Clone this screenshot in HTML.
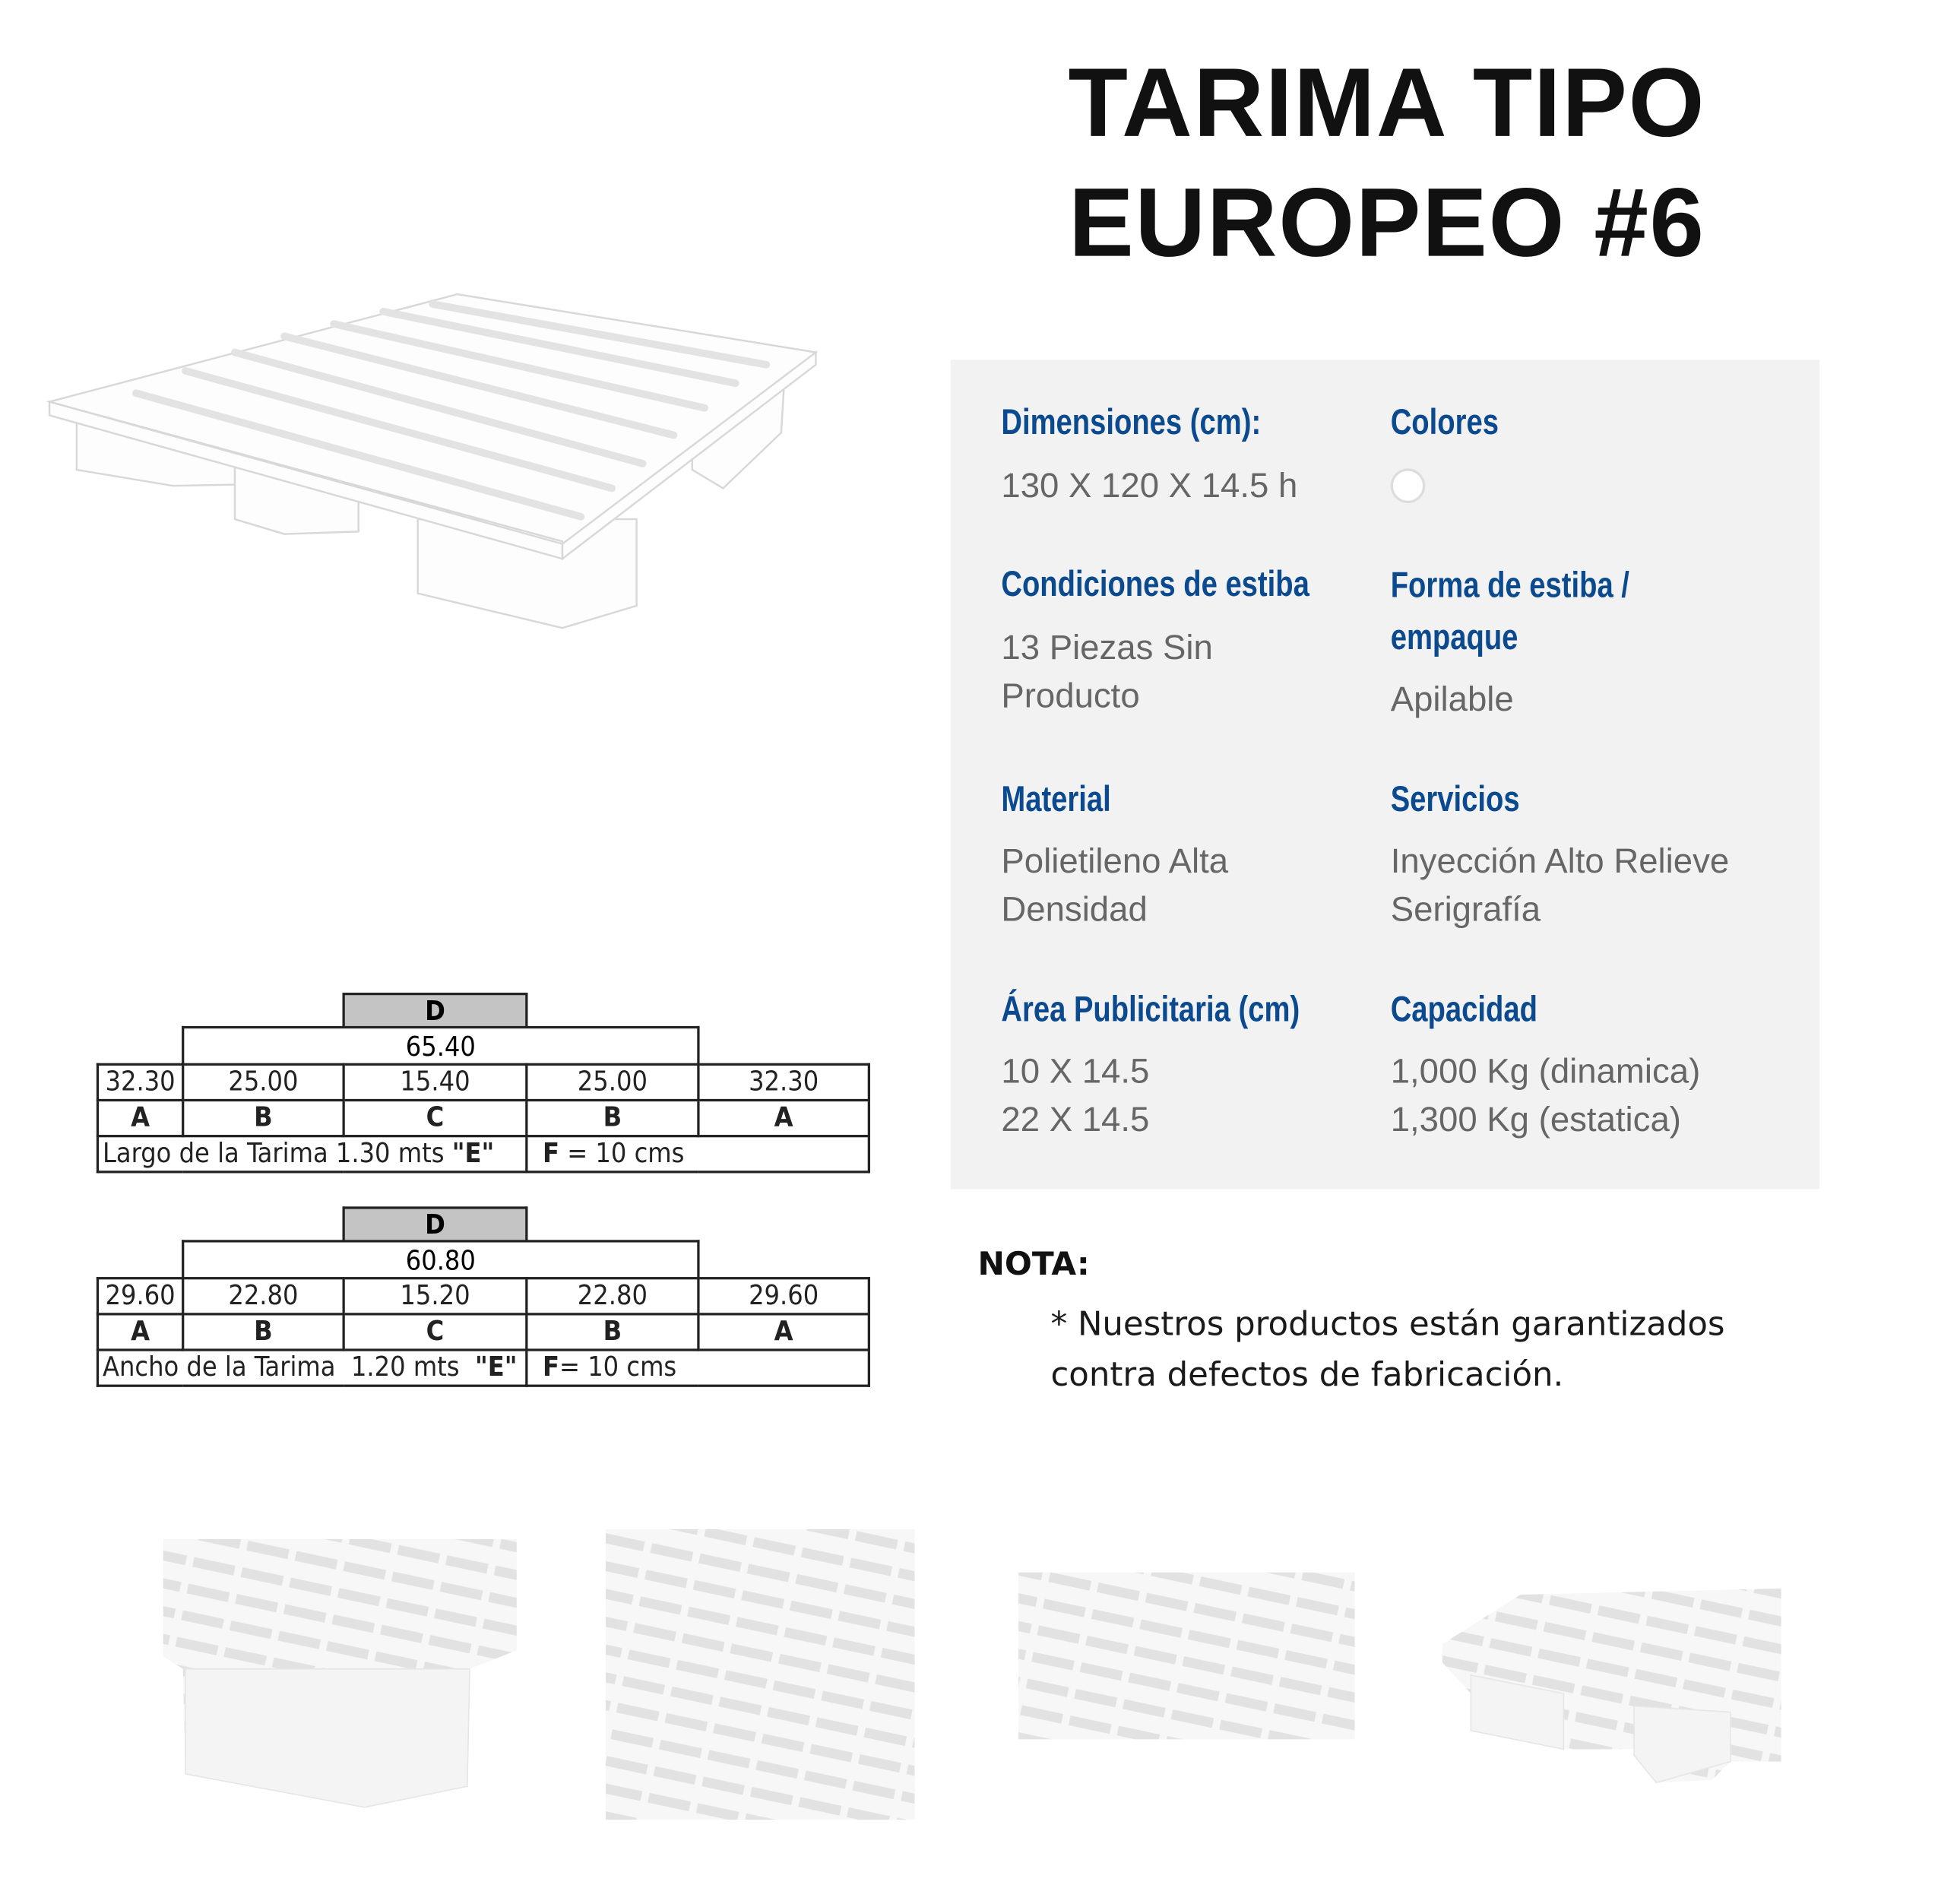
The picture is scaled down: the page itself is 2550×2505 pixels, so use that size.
<!DOCTYPE html>
<html><head><meta charset="utf-8"><style>
html,body{margin:0;padding:0;background:#fff;}
body{width:2550px;height:2504px;overflow:hidden;position:relative;}
#w{position:absolute;left:0;top:0;width:1568px;height:1540px;transform:scale(1.6264);transform-origin:0 0;}
.a{position:absolute;white-space:nowrap;}
.t{font-family:"Liberation Sans",sans-serif;font-weight:bold;font-size:79px;color:#111;left:850px;width:544px;text-align:center;letter-spacing:1px;}
.h{font-family:"Liberation Sans",sans-serif;font-weight:bold;font-size:29px;color:#0b4a8e;transform:scaleX(0.81);transform-origin:0 0;margin-top:4px;}
.b{font-family:"Liberation Sans",sans-serif;font-size:28px;color:#666;line-height:39px;}
.n{font-family:"DejaVu Sans","Liberation Sans",sans-serif;font-size:26.7px;color:#1a1a1a;line-height:41px;}
table{position:absolute;border-collapse:collapse;font-family:"DejaVu Sans Condensed","Liberation Sans Narrow",sans-serif;font-size:22px;color:#222;table-layout:fixed;}
td{border:2px solid #222;padding:0;height:27px;text-align:center;line-height:27px;white-space:nowrap;overflow:hidden;}
</style></head><body><div id="w">
<div class="a t" style="top:33px;line-height:100px;">TARIMA TIPO</div>
<div class="a t" style="top:130px;line-height:100px;">EUROPEO #6</div>

<svg class="a" style="left:0;top:0" width="700" height="540">
<g fill="#fdfdfd" stroke="#d8d8d8" stroke-width="1.5">
<polygon points="62,340 190,338 190,392 140,393 62,380"/>
<polygon points="190,372 290,370 290,430 230,432 190,420"/>
<polygon points="338,420 515,420 515,490 455,508 338,480"/>
<polygon points="560,320 635,300 632,350 585,395 560,380"/>
<polygon points="40,325 370,238 660,285 455,450 455,438"/>
<polygon points="40,325 455,440 455,452 40,336"/>
<polygon points="455,440 660,285 660,295 455,452"/>
</g>
<g stroke="#e3e3e3" stroke-width="6" stroke-linecap="round">
<line x1="110" y1="318" x2="470" y2="418"/>
<line x1="150" y1="300" x2="495" y2="395"/>
<line x1="190" y1="285" x2="520" y2="375"/>
<line x1="230" y1="272" x2="545" y2="352"/>
<line x1="270" y1="262" x2="570" y2="330"/>
<line x1="310" y1="252" x2="595" y2="310"/>
<line x1="350" y1="246" x2="620" y2="295"/>
</g>
</svg>

<div class="a" style="left:769px;top:291px;width:703px;height:671px;background:#f2f2f2;"></div>
<div class="a h" style="left:810px;top:322px;">Dimensiones (cm):</div>
<div class="a h" style="left:1125px;top:322px;">Colores</div>
<div class="a b" style="left:810px;top:373px;">130 X 120 X 14.5 h</div>
<div class="a" style="left:1125px;top:379px;width:24px;height:24px;border:2px solid #ddd;border-radius:50%;background:#fff;"></div>
<div class="a h" style="left:810px;top:453px;">Condiciones de estiba</div>
<div class="a h" style="left:1125px;line-height:42px;top:449px;">Forma de estiba /<br>empaque</div>
<div class="a b" style="left:810px;top:504px;">13 Piezas Sin<br>Producto</div>
<div class="a b" style="left:1125px;top:546px;">Apilable</div>
<div class="a h" style="left:810px;top:627px;">Material</div>
<div class="a h" style="left:1125px;top:627px;">Servicios</div>
<div class="a b" style="left:810px;top:677px;">Polietileno Alta<br>Densidad</div>
<div class="a b" style="left:1125px;top:677px;">Inyección Alto Relieve<br>Serigrafía</div>
<div class="a h" style="left:810px;top:797px;">Área Publicitaria (cm)</div>
<div class="a h" style="left:1125px;top:797px;">Capacidad</div>
<div class="a b" style="left:810px;top:847px;">10 X 14.5<br>22 X 14.5</div>
<div class="a b" style="left:1125px;top:847px;">1,000 Kg (dinamica)<br>1,300 Kg (estatica)</div>

<div class="a" style="left:791px;top:1008px;font-family:'DejaVu Sans','Liberation Sans',sans-serif;font-weight:bold;font-size:26px;color:#111;">NOTA:</div>
<div class="a n" style="left:850px;top:1051px;">* Nuestros productos están garantizados<br>contra defectos de fabricación.</div>

<div class="a" style="left:277px;top:803px;width:146px;height:26px;background:#c4c4c4;border:2px solid #222;border-bottom:none;text-align:center;font:bold 22px 'DejaVu Sans Condensed',sans-serif;line-height:28px;">D</div>
<div class="a" style="left:147px;top:830px;width:415px;height:29px;border:2px solid #222;border-bottom:none;text-align:center;font:22px 'DejaVu Sans Condensed',sans-serif;line-height:32px;">65.40</div>
<table style="left:78px;top:860px;width:626px;">
<col style="width:69px"><col style="width:130px"><col style="width:148px"><col style="width:139px"><col>
<tr><td>32.30</td><td>25.00</td><td>15.40</td><td>25.00</td><td>32.30</td></tr>
<tr style="font-weight:bold"><td>A</td><td>B</td><td>C</td><td>B</td><td>A</td></tr>
<tr><td colspan="3" style="text-align:left;padding-left:3px">Largo de la Tarima 1.30 mts <b>"E"</b></td><td colspan="2" style="text-align:left;padding-left:12px"><b>F</b> = 10 cms</td></tr>
</table>
<div class="a" style="left:277px;top:976px;width:146px;height:26px;background:#c4c4c4;border:2px solid #222;border-bottom:none;text-align:center;font:bold 22px 'DejaVu Sans Condensed',sans-serif;line-height:28px;">D</div>
<div class="a" style="left:147px;top:1003px;width:415px;height:29px;border:2px solid #222;border-bottom:none;text-align:center;font:22px 'DejaVu Sans Condensed',sans-serif;line-height:32px;">60.80</div>
<table style="left:78px;top:1033px;width:626px;">
<col style="width:69px"><col style="width:130px"><col style="width:148px"><col style="width:139px"><col>
<tr><td>29.60</td><td>22.80</td><td>15.20</td><td>22.80</td><td>29.60</td></tr>
<tr style="font-weight:bold"><td>A</td><td>B</td><td>C</td><td>B</td><td>A</td></tr>
<tr><td colspan="3" style="text-align:left;padding-left:3px">Ancho de la Tarima &nbsp;1.20 mts &nbsp;<b>"E"</b></td><td colspan="2" style="text-align:left;padding-left:12px"><b>F</b>= 10 cms</td></tr>
</table>

<svg class="a" style="left:0;top:1220px" width="1550" height="270">
<defs>
<pattern id="p" width="40" height="22" patternUnits="userSpaceOnUse" patternTransform="rotate(12)">
<rect width="40" height="22" fill="#f7f7f7"/><rect x="2" y="6" width="34" height="8" fill="#e2e2e2"/>
</pattern>
</defs>
<polygon points="132,25 418,25 418,115 380,130 378,225 295,242 150,215 148,130 132,120" fill="url(#p)"/>
<polygon points="150,130 380,130 378,225 295,242 150,215" fill="#f4f4f4" stroke="#e6e6e6"/>
<rect x="490" y="17" width="250" height="235" fill="url(#p)"/>
<rect x="824" y="52" width="272" height="135" fill="url(#p)"/>
<polygon points="1167,110 1230,70 1441,65 1441,205 1400,205 1385,220 1340,222 1322,195 1265,195 1245,180 1190,150 1167,125" fill="url(#p)"/>
<polygon points="1190,135 1265,150 1265,195 1190,180" fill="#f4f4f4" stroke="#e6e6e6"/>
<polygon points="1322,160 1400,165 1400,205 1340,222 1322,200" fill="#f4f4f4" stroke="#e6e6e6"/>
</svg>
</div></body></html>
